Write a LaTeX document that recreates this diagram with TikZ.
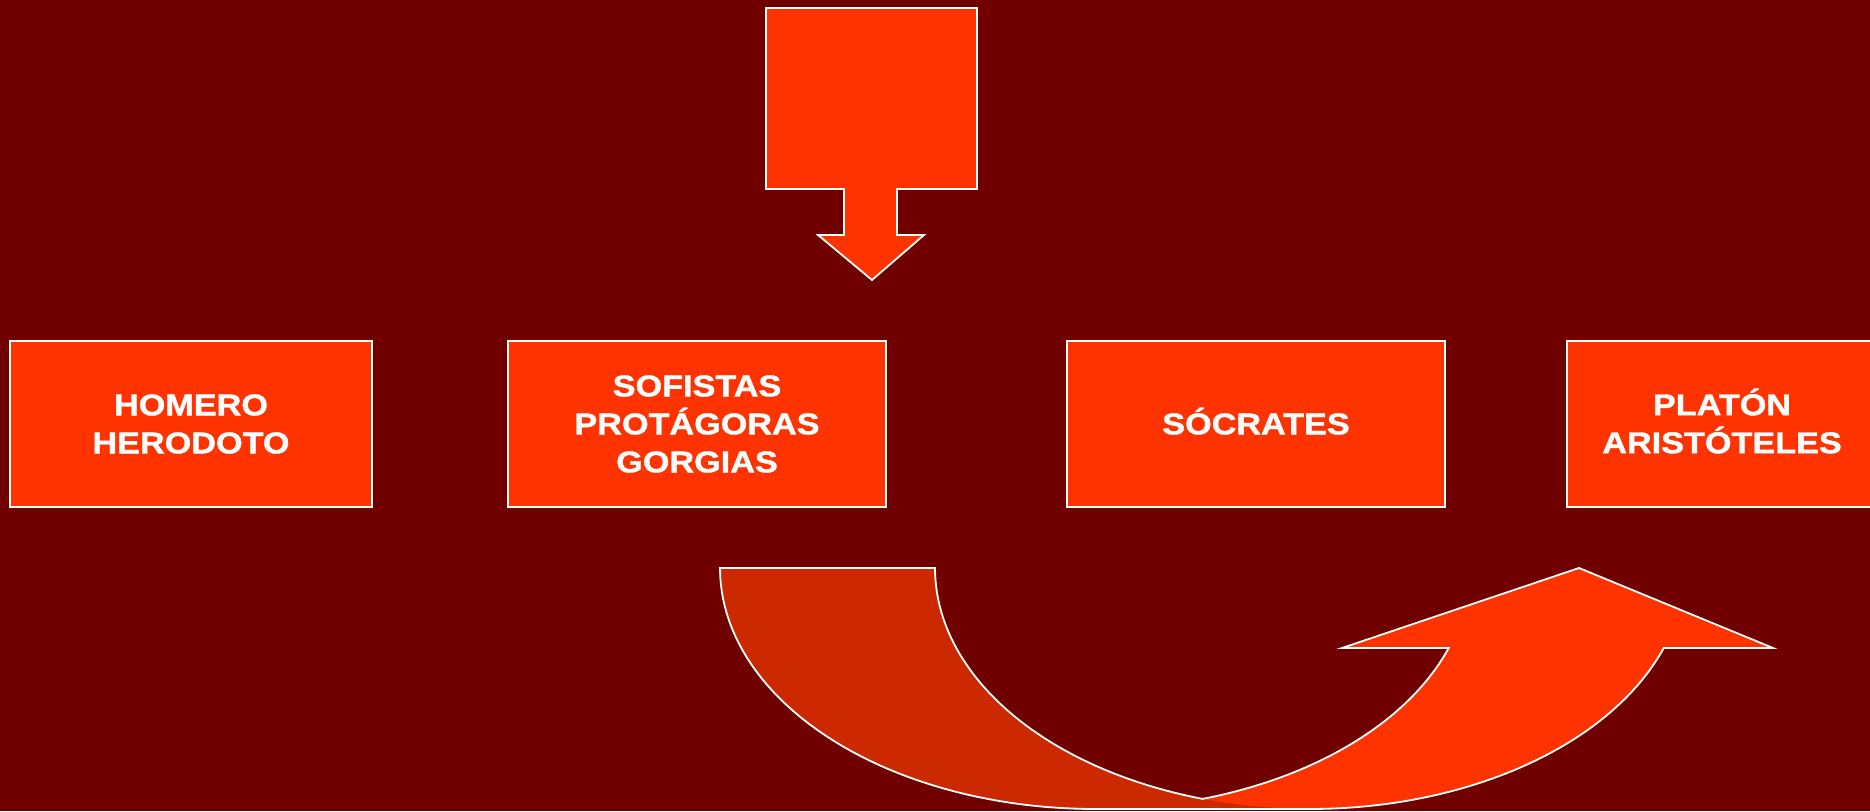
\documentclass[tikz,border=0pt]{standalone}
\usepackage{fontspec}
\setmainfont{Liberation Sans}[FakeStretch=1.14,BoldFeatures={FakeBold=1.3}]
\definecolor{bg}{RGB}{112,0,0}
\definecolor{orng}{RGB}{255,51,0}
\definecolor{dorng}{RGB}{204,41,0}
\begin{document}
\begin{tikzpicture}[x=1pt,y=-1pt,
  box/.style={draw=white,line width=2pt,fill=orng,minimum width=#1,minimum height=166pt,
    inner sep=0pt,text=white,align=center,font=\fontsize{30}{38}\selectfont\bfseries},
  edge/.style={draw=white,line width=1.8pt,line join=miter}]
\useasboundingbox (0,0) rectangle (1870,811);
\fill[bg] (0,0) rectangle (1870,811);
% top block arrow
\filldraw[fill=orng,edge] (766,8) -- (977,8) -- (977,189) -- (897,189) -- (897,235)
  -- (924,235) -- (872,280) -- (818,235) -- (844,235) -- (844,189) -- (766,189) -- cycle;
% boxes
\node[box=362pt] (homero) at (191,424) {HOMERO\\HERODOTO};
\node[box=378pt] (sofistas) at (697,424) {SOFISTAS\\PROTÁGORAS\\GORGIAS};
\node[box=378pt] (socrates) at (1256,424) {S\smash{Ó}CRATES};
\node[box=310pt] (platon) at (1722,424) {PLAT\smash{Ó}N\\ARISTÓTELES};
% curved up arrow: front (bright) part
\fill[orng] plot[domain=90:19.39,samples=50] ({1095+375*cos(\x)},{568+241*sin(\x)})
  -- (1342,648) -- (1579,568) -- (1773,648)
  -- plot[domain=19.39:90,samples=50] ({1310+375*cos(\x)},{568+241*sin(\x)}) -- cycle;
% back (shaded) part
\fill[dorng] plot[domain=0:90,samples=50] ({1095-375*cos(\x)},{568+241*sin(\x)})
  -- plot[domain=90:0,samples=50] ({1310-375*cos(\x)},{568+241*sin(\x)}) -- cycle;
% outline
\draw[edge] plot[domain=73.34:0,samples=50] ({1310-375*cos(\x)},{568+241*sin(\x)})
  -- plot[domain=0:90,samples=50] ({1095-375*cos(\x)},{568+241*sin(\x)})
  -- plot[domain=90:19.39,samples=50] ({1310+375*cos(\x)},{568+241*sin(\x)})
  -- (1773,648) -- (1579,568) -- (1342,648)
  -- plot[domain=19.39:73.34,samples=50] ({1095+375*cos(\x)},{568+241*sin(\x)}) -- cycle;
\end{tikzpicture}
\end{document}
